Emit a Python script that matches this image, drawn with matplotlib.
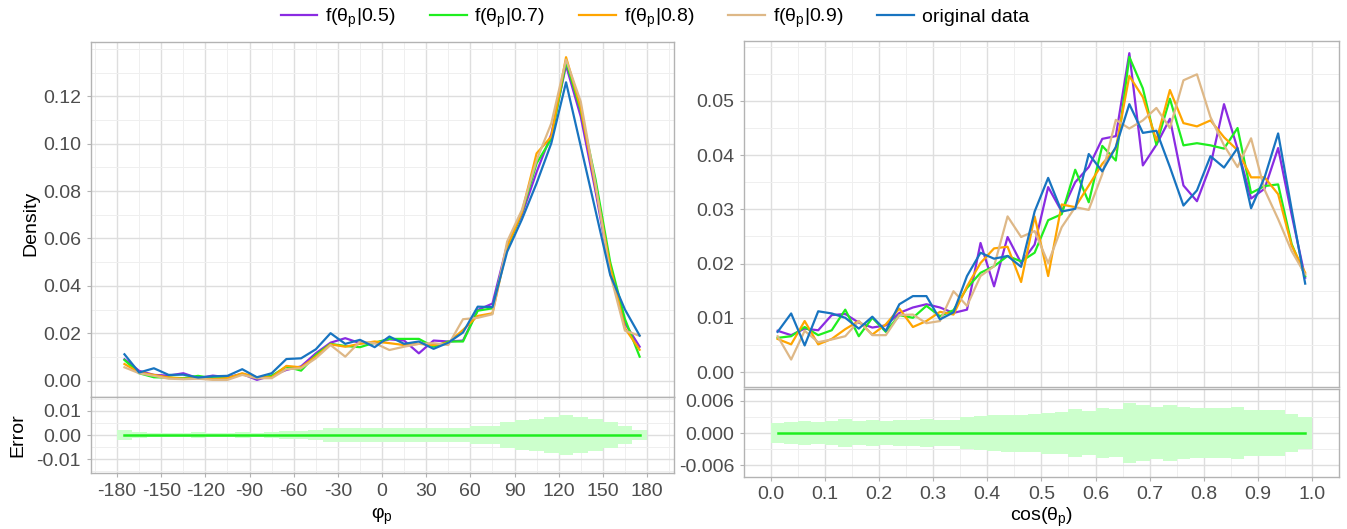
import numpy as np
import matplotlib
matplotlib.use("Agg")
import matplotlib.pyplot as plt
from matplotlib.ticker import MultipleLocator

plt.rcParams['font.family'] = ['Liberation Sans', 'DejaVu Sans']
plt.rcParams['mathtext.fontset'] = 'custom'
plt.rcParams['mathtext.rm'] = 'Liberation Sans'
plt.rcParams['mathtext.it'] = 'Liberation Sans'
plt.rcParams['axes.unicode_minus'] = False

# ---- data: phi_p (bins of 10 deg) ----
phi = np.arange(-175, 180, 10)
phi_edges = np.arange(-180, 181, 10)
phi_f05 = [0.0090, 0.0041, 0.0024, 0.0021, 0.0031, 0.0010, 0.0021, 0.0014, 0.0028, 0.0003,
           0.0021, 0.0045, 0.0060, 0.0115, 0.0160, 0.0179, 0.0158, 0.0158, 0.0174, 0.0169,
           0.0115, 0.0169, 0.0165, 0.0169, 0.0298, 0.0325, 0.0573, 0.0700, 0.0880, 0.1040,
           0.1330, 0.1114, 0.0800, 0.0460, 0.0242, 0.0143]
phi_f07 = [0.0087, 0.0031, 0.0014, 0.0013, 0.0010, 0.0020, 0.0010, 0.0010, 0.0028, 0.0010,
           0.0020, 0.0059, 0.0042, 0.0108, 0.0155, 0.0146, 0.0141, 0.0160, 0.0176, 0.0176,
           0.0176, 0.0143, 0.0165, 0.0165, 0.0295, 0.0305, 0.0560, 0.0710, 0.0917, 0.1020,
           0.1346, 0.1140, 0.0850, 0.0500, 0.0260, 0.0101]
phi_f08 = [0.0070, 0.0034, 0.0024, 0.0013, 0.0008, 0.0011, 0.0006, 0.0010, 0.0031, 0.0014,
           0.0014, 0.0062, 0.0056, 0.0101, 0.0153, 0.0143, 0.0155, 0.0165, 0.0158, 0.0150,
           0.0155, 0.0150, 0.0160, 0.0214, 0.0273, 0.0284, 0.0565, 0.0710, 0.0959, 0.1030,
           0.1365, 0.1150, 0.0820, 0.0480, 0.0221, 0.0130]
phi_f09 = [0.0056, 0.0031, 0.0020, 0.0008, 0.0006, 0.0008, 0.0003, 0.0003, 0.0024, 0.0010,
           0.0010, 0.0048, 0.0052, 0.0094, 0.0150, 0.0101, 0.0165, 0.0158, 0.0129, 0.0143,
           0.0155, 0.0158, 0.0150, 0.0259, 0.0265, 0.0280, 0.0587, 0.0720, 0.0930, 0.1086,
           0.1355, 0.1177, 0.0830, 0.0450, 0.0211, 0.0189]
phi_orig = [0.0111, 0.0034, 0.0052, 0.0024, 0.0025, 0.0013, 0.0018, 0.0020, 0.0048, 0.0014,
            0.0031, 0.0091, 0.0094, 0.0132, 0.0200, 0.0155, 0.0172, 0.0141, 0.0186, 0.0155,
            0.0165, 0.0134, 0.0160, 0.0203, 0.0312, 0.0310, 0.0544, 0.0680, 0.0833, 0.1002,
            0.1259, 0.0989, 0.0718, 0.0446, 0.0300, 0.0190]
phi_err = [0.0022, 0.0014, 0.0007, 0.0007, 0.0007, 0.0012, 0.0007, 0.0010, 0.0012, 0.0010,
           0.0012, 0.0018, 0.0018, 0.0022, 0.0029, 0.0029, 0.0029, 0.0030, 0.0030, 0.0030,
           0.0030, 0.0028, 0.0028, 0.0028, 0.0039, 0.0039, 0.0052, 0.0061, 0.0067, 0.0074,
           0.0084, 0.0076, 0.0066, 0.0052, 0.0036, 0.0022]

# ---- data: cos(theta_p) (bins of 0.025) ----
cth = np.arange(40) * 0.025 + 0.0125
cth_edges = np.arange(41) * 0.025
cth_f05 = [0.0076, 0.0068, 0.0080, 0.0077, 0.0105, 0.0107, 0.0091, 0.0082, 0.0086, 0.0109,
           0.0119, 0.0125, 0.0119, 0.0109, 0.0115, 0.0238, 0.0158, 0.0249, 0.0201, 0.0235,
           0.0341, 0.0296, 0.0350, 0.0378, 0.0430, 0.0435, 0.0588, 0.0381, 0.0419, 0.0467,
           0.0344, 0.0315, 0.0381, 0.0494, 0.0412, 0.0320, 0.0338, 0.0413, 0.0290, 0.0174]
cth_f07 = [0.0063, 0.0066, 0.0083, 0.0068, 0.0077, 0.0115, 0.0066, 0.0100, 0.0074, 0.0105,
           0.0100, 0.0122, 0.0103, 0.0114, 0.0155, 0.0183, 0.0195, 0.0214, 0.0204, 0.0220,
           0.0280, 0.0291, 0.0373, 0.0313, 0.0417, 0.0390, 0.0581, 0.0523, 0.0419, 0.0504,
           0.0418, 0.0422, 0.0418, 0.0412, 0.0450, 0.0330, 0.0343, 0.0346, 0.0236, 0.0177]
cth_f08 = [0.0061, 0.0051, 0.0094, 0.0051, 0.0061, 0.0079, 0.0094, 0.0069, 0.0088, 0.0117,
           0.0083, 0.0094, 0.0111, 0.0106, 0.0158, 0.0201, 0.0228, 0.0231, 0.0166, 0.0287,
           0.0177, 0.0309, 0.0304, 0.0344, 0.0384, 0.0412, 0.0546, 0.0507, 0.0427, 0.0520,
           0.0459, 0.0453, 0.0464, 0.0433, 0.0409, 0.0359, 0.0359, 0.0328, 0.0233, 0.0183]
cth_f09 = [0.0066, 0.0023, 0.0076, 0.0055, 0.0060, 0.0066, 0.0094, 0.0068, 0.0068, 0.0105,
           0.0106, 0.0090, 0.0094, 0.0149, 0.0122, 0.0177, 0.0195, 0.0287, 0.0249, 0.0260,
           0.0201, 0.0267, 0.0304, 0.0299, 0.0365, 0.0465, 0.0449, 0.0464, 0.0487, 0.0450,
           0.0538, 0.0549, 0.0470, 0.0418, 0.0378, 0.0431, 0.0336, 0.0282, 0.0223, 0.0180]
cth_orig = [0.0074, 0.0108, 0.0049, 0.0112, 0.0108, 0.0100, 0.0080, 0.0102, 0.0076, 0.0125,
            0.0140, 0.0140, 0.0097, 0.0110, 0.0177, 0.0220, 0.0209, 0.0214, 0.0194, 0.0296,
            0.0358, 0.0296, 0.0301, 0.0402, 0.0370, 0.0415, 0.0494, 0.0441, 0.0445, 0.0378,
            0.0307, 0.0335, 0.0398, 0.0377, 0.0413, 0.0302, 0.0359, 0.0440, 0.0300, 0.0163]
cth_err = [0.00184, 0.00196, 0.00214, 0.00196, 0.00214, 0.00251, 0.00214, 0.00233, 0.00214, 0.00239,
           0.00239, 0.00257, 0.00245, 0.00245, 0.00294, 0.00318, 0.00331, 0.00343, 0.00343, 0.00355,
           0.00380, 0.00392, 0.00441, 0.00404, 0.00465, 0.00453, 0.00551, 0.00527, 0.00484, 0.00514,
           0.00478, 0.00471, 0.00471, 0.00471, 0.00490, 0.00429, 0.00429, 0.00422, 0.00349, 0.00300]

labels = ["f(θ$_{\\rm p}$|0.5)", "f(θ$_{\\rm p}$|0.7)", "f(θ$_{\\rm p}$|0.8)",
          "f(θ$_{\\rm p}$|0.9)", "original data"]
colors = ["#8A2BE2", "#1FEE1F", "#FFA500", "#DEB887", "#1874C0"]

W, H = 1347, 529
FS = 14
fig = plt.figure(figsize=(W / 100, H / 100), dpi=100)


def box(x0, x1, y0, y1):
    return [x0 / W, 1 - y1 / H, (x1 - x0) / W, (y1 - y0) / H]


def style(ax, xmaj, ymaj):
    ax.set_facecolor("white")
    for s in ax.spines.values():
        s.set_color("#B3B3B3")
        s.set_linewidth(1.0)
    ax.xaxis.set_major_locator(MultipleLocator(xmaj))
    ax.xaxis.set_minor_locator(MultipleLocator(xmaj / 2))
    ax.yaxis.set_major_locator(MultipleLocator(ymaj))
    ax.yaxis.set_minor_locator(MultipleLocator(ymaj / 2))
    ax.grid(which="major", color="#DEDEDE", lw=1.0)
    ax.grid(which="minor", color="#EFEFEF", lw=0.7)
    ax.set_axisbelow(True)
    ax.tick_params(which="major", length=3, color="#B3B3B3", labelsize=FS,
                   labelcolor="#4D4D4D", pad=4)
    ax.tick_params(which="minor", length=0)


# left panel
axL = fig.add_axes(box(90.6, 673.5, 42, 396.7))
axLe = fig.add_axes(box(90.6, 673.5, 396.7, 473.3))
series_phi = [phi_f05, phi_f07, phi_f08, phi_f09, phi_orig]
for ys, c, lab in zip(series_phi, colors, labels):
    axL.plot(phi, ys, color=c, lw=1.6, label=lab)
style(axL, 30, 0.02)
axL.set_xlim(-198, 198)
axL.set_ylim(-0.0068, 0.1429)
axL.tick_params(axis="x", labelbottom=False, length=0)
axL.set_yticks([0, 0.02, 0.04, 0.06, 0.08, 0.10, 0.12])
axL.set_yticklabels(["0.00", "0.02", "0.04", "0.06", "0.08", "0.10", "0.12"])
axL.set_ylabel("Density", fontsize=FS)
axL.yaxis.set_label_coords(-0.088, 0.49)

pe = np.append(phi_err, phi_err[-1])
axLe.fill_between(phi_edges, -pe, pe, step="post", color="#CCFFCC", lw=0)
axLe.plot([phi[0], phi[-1]], [0, 0], color="#1FEE1F", lw=1.8)
style(axLe, 30, 0.01)
axLe.set_xlim(-198, 198)
axLe.set_ylim(-0.0158, 0.0158)
axLe.set_xticks(np.arange(-180, 181, 30))
axLe.set_yticks([-0.01, 0, 0.01])
axLe.set_yticklabels(["-0.01", "0.00", "0.01"])
axLe.set_ylabel("Error", fontsize=FS)
axLe.yaxis.set_label_coords(-0.11, 0.5)
axLe.set_xlabel("φ$_{\\rm p}$", fontsize=FS)
axLe.xaxis.set_label_coords(0.5, -0.43)

# right panel
axR = fig.add_axes(box(743.8, 1339, 40.7, 387.2))
axRe = fig.add_axes(box(743.8, 1339, 388.8, 476.7))
series_cth = [cth_f05, cth_f07, cth_f08, cth_f09, cth_orig]
for ys, c, lab in zip(series_cth, colors, labels):
    axR.plot(cth, ys, color=c, lw=1.6, label=lab)
style(axR, 0.1, 0.01)
axR.set_xlim(-0.05, 1.05)
axR.set_ylim(-0.0028, 0.0611)
axR.tick_params(axis="x", labelbottom=False, length=0)
axR.set_yticks([0, 0.01, 0.02, 0.03, 0.04, 0.05])
axR.set_yticklabels(["0.00", "0.01", "0.02", "0.03", "0.04", "0.05"])

ce = np.append(cth_err, cth_err[-1])
axRe.fill_between(cth_edges, -ce, ce, step="post", color="#CCFFCC", lw=0)
axRe.plot([cth[0], cth[-1]], [0, 0], color="#1FEE1F", lw=1.8)
style(axRe, 0.1, 0.006)
axRe.set_xlim(-0.05, 1.05)
axRe.set_ylim(-0.0081, 0.0082)
axRe.set_xticks(np.round(np.arange(0, 1.01, 0.1), 1))
axRe.set_xticklabels([f"{v:.1f}" for v in np.arange(0, 1.01, 0.1)])
axRe.set_yticks([-0.006, 0, 0.006])
axRe.set_yticklabels(["-0.006", "0.000", "0.006"])
axRe.set_xlabel("cos(θ$_{\\rm p}$)", fontsize=FS)
axRe.xaxis.set_label_coords(0.5, -0.33)

handles, labs = axL.get_legend_handles_labels()
fig.legend(handles, labs, loc="upper center", bbox_to_anchor=(655 / W, 1.02),
           ncol=5, frameon=False, fontsize=FS, handlelength=1.9,
           handletextpad=0.4, columnspacing=1.75)

fig.savefig("out.png", dpi=100, facecolor="white")
